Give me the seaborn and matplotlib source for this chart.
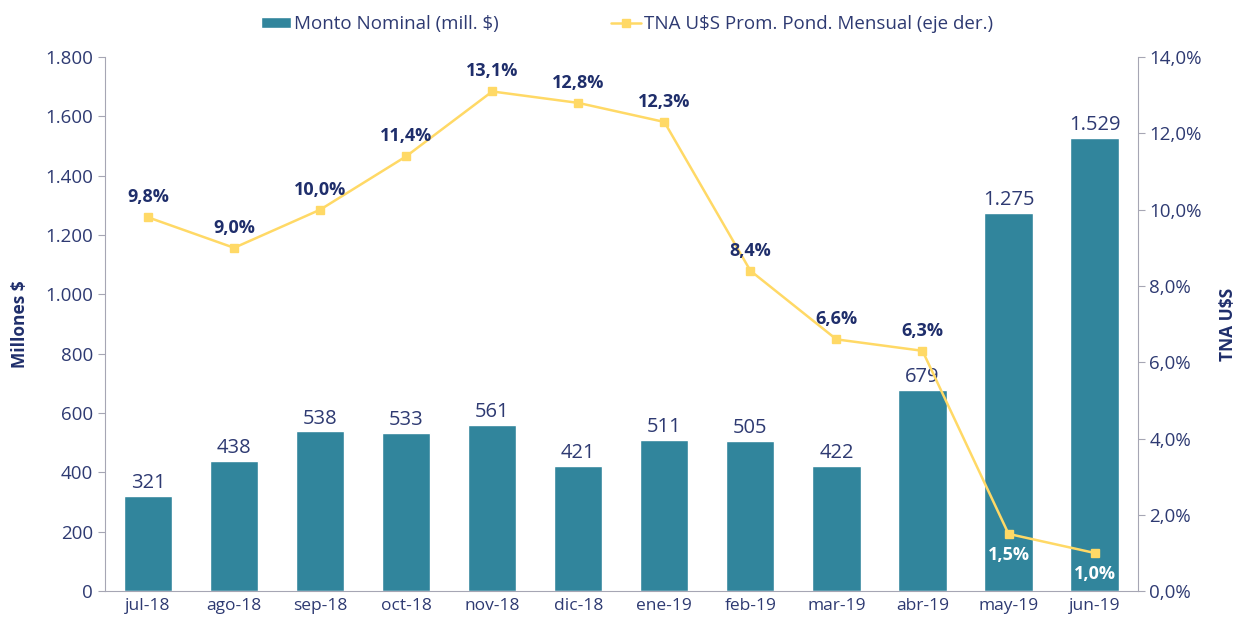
import matplotlib
matplotlib.use("Agg")
import matplotlib.pyplot as plt
import numpy as np
import pandas as pd
import seaborn as sns

meses = ["jul-18", "ago-18", "sep-18", "oct-18", "nov-18", "dic-18",
         "ene-19", "feb-19", "mar-19", "abr-19", "may-19", "jun-19"]
monto = [321, 438, 538, 533, 561, 421, 511, 505, 422, 679, 1275, 1529]
tna = [9.8, 9.0, 10.0, 11.4, 13.1, 12.8, 12.3, 8.4, 6.6, 6.3, 1.5, 1.0]

sns.set_style("white")
plt.rcParams['font.family'] = ['Open Sans', 'DejaVu Sans']

navy = "#1f2e6b"
txt = "#2e3a72"
bar_col = "#31859c"
line_col = "#ffd966"
gris = "#a6a6b4"

def miles(v):
    return f"{int(v):,}".replace(",", ".")

df = pd.DataFrame({"mes": meses, "monto": monto, "tna": tna})

fig = plt.figure(figsize=(12.46, 6.17), dpi=100)
ax = fig.add_axes([0.0843, 0.042, 0.8287, 0.8654])
sns.barplot(data=df, x="mes", y="monto", color=bar_col, width=0.56,
            saturation=1, ax=ax, label="Monto Nominal (mill. $)")
if ax.get_legend() is not None:
    ax.get_legend().remove()
ax.set_ylim(0, 1800)
ax.set_xlim(-0.5, 11.5)
ax.set_yticks(np.arange(0, 1801, 200))
ax.set_yticklabels([miles(v) for v in np.arange(0, 1801, 200)])
ax.set_xlabel("")
ax.set_ylabel("Millones $", fontsize=12.5, fontweight="bold", color=navy, labelpad=12)
for i, v in enumerate(monto):
    ax.text(i, v + 10, miles(v), ha="center", va="bottom", fontsize=14.5, color=txt)

ax2 = ax.twinx()
ax2.plot(range(len(meses)), tna, color=line_col, marker="s", markersize=6,
         linewidth=1.8, label="TNA U$S Prom. Pond. Mensual (eje der.)")
ax2.set_ylim(0, 14)
ax2.set_yticks(np.arange(0, 14.1, 2))
ax2.set_yticklabels([f"{v:.1f}%".replace(".", ",") for v in np.arange(0, 14.1, 2)])
ax2.set_ylabel("TNA U$S", fontsize=12.5, fontweight="bold", color=navy, rotation=90, labelpad=12)
for i, v in enumerate(tna):
    lab = f"{v:.1f}%".replace(".", ",")
    if i >= 10:
        ax2.annotate(lab, (i, v), xytext=(0, -9), textcoords="offset points",
                     ha="center", va="top", fontsize=13, fontweight="bold", color="white")
    else:
        ax2.annotate(lab, (i, v), xytext=(0, 8), textcoords="offset points",
                     ha="center", va="bottom", fontsize=13, fontweight="bold", color=navy)

for a in (ax, ax2):
    a.spines["top"].set_visible(False)
    for s in ("left", "right", "bottom"):
        a.spines[s].set_color(gris)
    a.tick_params(axis="both", colors=gris, labelcolor=txt, labelsize=13.5,
                  direction="out", length=5)
ax.spines["right"].set_visible(False)
ax2.spines["left"].set_visible(False)
ax2.spines["bottom"].set_visible(False)
ax.set_xticks(np.arange(-0.5, 12, 1), minor=True)
ax.tick_params(axis="x", which="major", length=0, labelsize=12.5, pad=5)
ax.tick_params(axis="x", which="minor", length=5, colors=gris)

h1, l1 = ax.get_legend_handles_labels()
h2, l2 = ax2.get_legend_handles_labels()
leg = fig.legend(h1 + h2, l1 + l2, loc="center", bbox_to_anchor=(0.503, 0.961),
                 ncol=2, frameon=False, fontsize=13.5, handlelength=1.6,
                 handleheight=0.5, handletextpad=0.15, columnspacing=6.0)
for t in leg.get_texts():
    t.set_color(txt)

fig.savefig("out.png", dpi=100)
